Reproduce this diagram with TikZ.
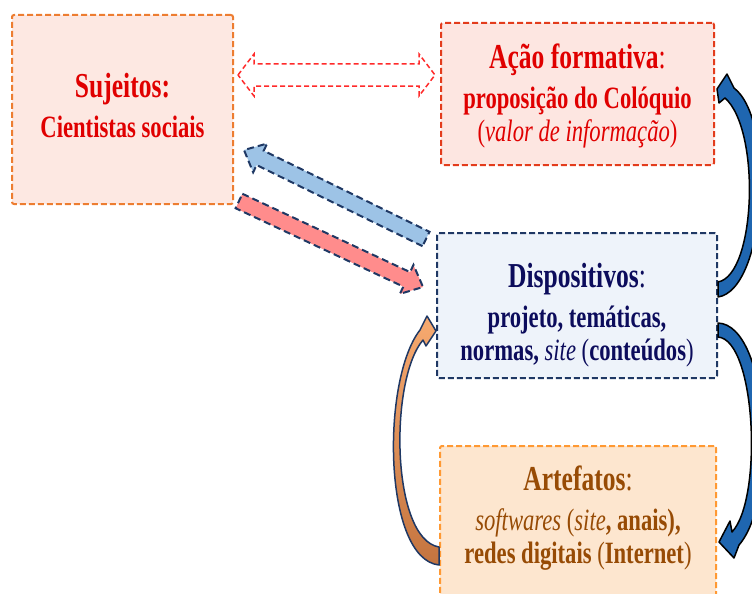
\documentclass[tikz,border=0pt]{standalone}
\usepackage{fontspec}
\setmainfont{Liberation Serif}[FakeStretch=0.73]
\usetikzlibrary{calc}
\definecolor{sujline}{HTML}{ED7D31}
\definecolor{sujfill}{HTML}{FDE8E2}
\definecolor{acaoline}{HTML}{E33C1C}
\definecolor{acaofill}{HTML}{FDE6E1}
\definecolor{displine}{HTML}{1F3864}
\definecolor{dispfill}{HTML}{EEF3FA}
\definecolor{arteline}{HTML}{FF9933}
\definecolor{artefill}{HTML}{FDE6CF}
\definecolor{redtxt}{HTML}{E00000}
\definecolor{navytxt}{HTML}{0C0C5C}
\definecolor{browntxt}{HTML}{974B05}
\definecolor{ddred}{HTML}{FF2A2A}
\definecolor{flowblue}{HTML}{9DC3E6}
\definecolor{flowpink}{HTML}{FF8C8C}
\definecolor{curvblue}{HTML}{1F66B0}
\definecolor{curvtop}{HTML}{F7AA70}
\definecolor{curvbot}{HTML}{C4743F}
\tikzset{box/.style={draw, dash pattern=on 6pt off 3pt, line width=2pt, rounded corners=2pt, align=center, inner sep=0pt, font=\fontsize{31}{31}\selectfont\bfseries}}
\tikzset{flow/.style={draw=displine, line width=2pt, dash pattern=on 7pt off 4pt}}
\tikzset{curvarrow/.style={line width=1.5pt, line join=round}}
\newcommand\ttl{\fontsize{35}{35}\selectfont}
\newcommand\lite[1]{{\mdseries #1}}
% straight block arrow: style, tail, tip
\newcommand\blockarrow[3]{%
  \coordinate (ba-n) at ($(#3)!18pt!(#2)$);
  \path[#1] ($(#2)!8pt!90:(#3)$) -- ($(ba-n)!8pt!90:(#3)$) -- ($(ba-n)!16pt!90:(#3)$) -- (#3)
    -- ($(ba-n)!16pt!-90:(#3)$) -- ($(ba-n)!8pt!-90:(#3)$) -- ($(#2)!8pt!-90:(#3)$) -- cycle;
}
% block arrow with two heads
\newcommand\dblarrow[3]{%
  \coordinate (da-a) at ($(#2)!16pt!(#3)$);
  \coordinate (da-b) at ($(#3)!16pt!(#2)$);
  \path[#1] (#2) -- ($(da-a)!21pt!90:(#3)$) -- ($(da-a)!11pt!90:(#3)$) -- ($(da-b)!11pt!90:(#3)$)
    -- ($(da-b)!21pt!90:(#3)$) -- (#3) -- ($(da-b)!21pt!-90:(#3)$) -- ($(da-b)!11pt!-90:(#3)$)
    -- ($(da-a)!11pt!-90:(#3)$) -- ($(da-a)!21pt!-90:(#3)$) -- cycle;
}

\begin{document}
\begin{tikzpicture}[x=1pt, y=-1pt]
  \useasboundingbox (0,0) rectangle (752,594);

  \node[box, draw=sujline, fill=sujfill, text=redtxt, minimum width=221pt, minimum height=189pt,
    text height=64pt, text depth=9pt] (suj) at (122.5,109.5)
    {{\ttl Sujeitos:}\\[9pt] Cientistas sociais};
  \node[box, draw=acaoline, fill=acaofill, text=redtxt, minimum width=273pt, minimum height=142pt,
    text height=97pt, text depth=3pt] (acao) at (577.5,94)
    {{\ttl Ação formativa\lite{:}}\\[9pt] proposição do Colóquio\\[2pt] \lite{(\textit{valor de informação})}};
  \node[box, draw=displine, fill=dispfill, text=navytxt, minimum width=280pt, minimum height=145pt,
    text height=109pt, text depth=0pt] (disp) at (577,305.5)
    {{\ttl Dispositivos\lite{:}}\\[9pt] projeto, temáticas,\\[2pt] normas, \lite{\textit{site}} \lite{(}conteúdos\lite{)}};
  \node[box, draw=arteline, fill=artefill, text=browntxt, minimum width=276pt, minimum height=180pt,
    text height=97pt, text depth=43pt] (arte) at (578,536)
    {{\ttl Artefatos\lite{:}}\\[9pt] \lite{\textit{softwares} (\textit{site}}, anais),\\[2pt] redes digitais \lite{(}Internet\lite{)}};

  % straight arrows
  \coordinate (dd-l) at ($(suj.east)+(4,-34.5)$);
  \coordinate (dd-r) at ($(acao.west)+(-5,-19)$);
  \dblarrow{draw=ddred, fill=white, line width=1.5pt, dash pattern=on 5pt off 3pt}{dd-l}{dd-r}

  \coordinate (up-t) at ($(disp.north west)+(-10,7)$);
  \coordinate (up-h) at ($(suj.east)+(10,40.5)$);
  \blockarrow{flow, fill=flowblue}{up-t}{up-h}

  \coordinate (dn-t) at ($(suj.south east)+(5,-4)$);
  \coordinate (dn-h) at ($(disp.west)+(-13,-18.5)$);
  \blockarrow{flow, fill=flowpink}{dn-t}{dn-h}

  % curved arrows
  \draw[curvarrow, fill=curvblue] ($(disp.east)+(0,-8.5)$) -- ($(disp.east)+(0,-23.5)$)
    .. controls +(38,-7) and +(36,32) .. ($(acao.east)+(10,4)$) -- ($(acao.east)+(4,9)$)
    -- ($(acao.east)+(2,-5)$) -- ($(acao.east)+(12,-20)$) -- ($(acao.east)+(19,-6)$)
    .. controls +(42,32) and +(48,-7) .. ($(disp.east)+(0,-8.5)$) -- cycle;
  \draw[curvarrow, fill=curvblue] ($(disp.east)+(0,31.5)$) -- ($(disp.east)+(0,17.5)$)
    .. controls +(51,2) and +(40,-46) .. ($(arte.north east)+(22,100)$) -- ($(arte.north east)+(17,113)$)
    -- ($(arte.north east)+(2,97)$) -- ($(arte.north east)+(13,76)$) -- ($(arte.north east)+(15,87)$)
    .. controls +(31,-33) and +(38,3) .. ($(disp.east)+(0,31.5)$) -- cycle;
  \draw[curvarrow, draw=displine, top color=curvtop, bottom color=curvbot] ($(arte.north west)+(0,102)$) -- ($(arte.north west)+(0,120)$)
    .. controls +(-56,-6) and +(-39,50) .. ($(disp.west)+(-16,24.5)$) -- ($(disp.west)+(-9,10.5)$)
    -- ($(disp.west)+(0,25.5)$) -- ($(disp.west)+(-10,40.5)$) -- ($(disp.west)+(-13,34.5)$)
    .. controls +(-34,40) and +(-48,-8) .. ($(arte.north west)+(0,102)$) -- cycle;
\end{tikzpicture}
\end{document}
